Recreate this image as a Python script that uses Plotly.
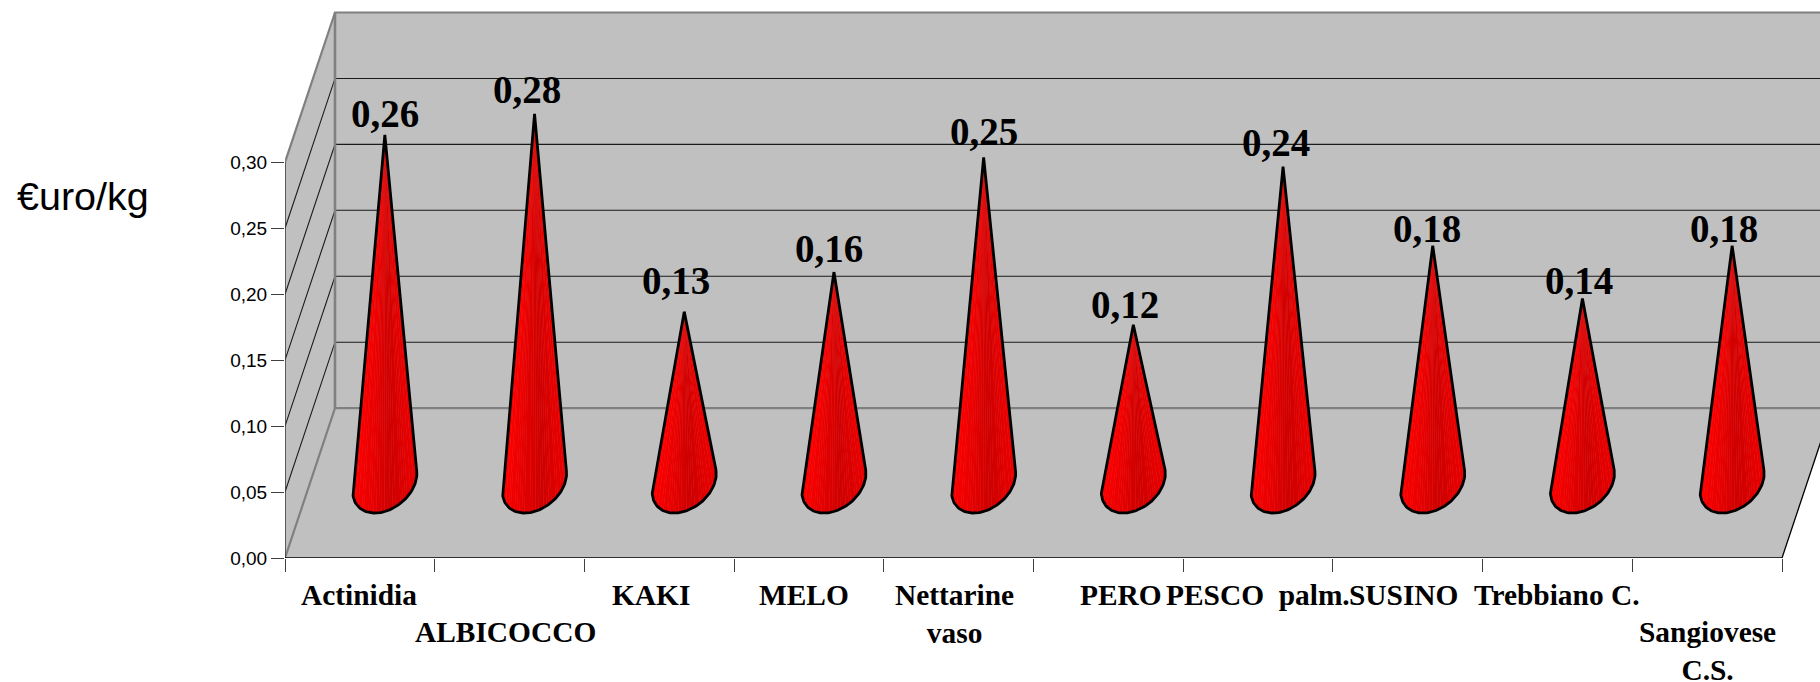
import numpy as np
import plotly.graph_objects as go

# ---- data ----
CATEGORY_LABELS = ["Actinidia", "ALBICOCCO", "KAKI", "MELO", "Nettarine<br>vaso", "PERO",
                   "PESCO  palm.", "SUSINO", "Trebbiano C.", "Sangiovese<br>C.S."]
VALUES = [0.264, 0.28, 0.13, 0.16, 0.247, 0.12, 0.24, 0.18, 0.14, 0.18]
VALUE_TICKS = [0.00, 0.05, 0.10, 0.15, 0.20, 0.25, 0.30]
UNIT_LABEL = "€uro/kg"

# ---- hand placement of the texts in the original, in pixels ----
CAT_LABEL_DX = [-1, -4, -8, -5, -4, 13, 0, -4, 0, 0]
CAT_LABEL_ROW = [0, 1, 0, 0, 0, 0, 0, 0, 0, 1]
VAL_LABEL_DX = [0, -8, -8, -5, 0, -8, -7, -6, -3, -8]
VAL_LABEL_GAP = [21, 24, 31, 24, 26, 20, 24, 17, 18, 17]

# ---- scales of the drawing (oblique projection of a 3-D column chart) ----
W, H = 1820, 682
LEFT, BASE_PX = 285, 558.5
PX_PER_CAT, PX_PER_VAL = 149.7, 1320.0
DEPTH_X = 50 / PX_PER_CAT     # back wall offset, in category units
DEPTH_Y = 150 / PX_PER_VAL    # back wall offset, in value units
N = len(VALUES)
VMAX = VALUE_TICKS[-1]
X_END = (W - LEFT) / PX_PER_CAT
Y_END = BASE_PX / PX_PER_VAL
GREY, DARK = "#C0C0C0", "#808080"

fig = go.Figure()


def line(xs, ys, color, width, fill=None):
    fig.add_trace(go.Scatter(x=xs, y=ys, mode="lines", line=dict(color=color, width=width),
                             fill="toself" if fill else None, fillcolor=fill,
                             hoverinfo="skip", showlegend=False))


# walls and floor
line([DEPTH_X, N + DEPTH_X, N + DEPTH_X, DEPTH_X, DEPTH_X],
     [DEPTH_Y, DEPTH_Y, VMAX + DEPTH_Y, VMAX + DEPTH_Y, DEPTH_Y], GREY, 0, GREY)
line([0, DEPTH_X, DEPTH_X, 0, 0], [0, DEPTH_Y, VMAX + DEPTH_Y, VMAX, 0], GREY, 0, GREY)
line([0, N, N + DEPTH_X, DEPTH_X, 0], [0, 0, DEPTH_Y, DEPTH_Y, 0], GREY, 0, GREY)

# gridlines on the back and left walls
for v in VALUE_TICKS[1:-1]:
    line([0, DEPTH_X, N + DEPTH_X], [v, v + DEPTH_Y, v + DEPTH_Y], "#1a1a1a", 1.1)

# wall edges
line([0, DEPTH_X, N + DEPTH_X], [0, DEPTH_Y, DEPTH_Y], DARK, 2.2)
line([DEPTH_X, DEPTH_X], [DEPTH_Y, VMAX + DEPTH_Y], DARK, 2.6)
line([0, DEPTH_X, N + DEPTH_X], [VMAX, VMAX + DEPTH_Y, VMAX + DEPTH_Y], DARK, 2.2)
# front axis lines and right floor edge
line([0, 0], [0, VMAX], "#404040", 1.6)
line([0, N, N + DEPTH_X], [0, 0, DEPTH_Y], "#000000", 1.3)


# ---- cones ----
def hull(points):
    pts = sorted(set(map(tuple, points)))
    def half(seq):
        out = []
        for p in seq:
            while len(out) > 1 and (out[-1][0] - out[-2][0]) * (p[1] - out[-2][1]) - \
                    (out[-1][1] - out[-2][1]) * (p[0] - out[-2][0]) <= 0:
                out.pop()
            out.append(p)
        return out[:-1]
    return half(pts) + half(pts[::-1])


A_PX, K = 30.4, 0.2   # base radius across (px) and in depth (fraction of the depth)
BANDS = 22
band_x = [[] for _ in range(BANDS)]
band_y = [[] for _ in range(BANDS)]
out_x, out_y = [], []
theta = np.linspace(0, 2 * np.pi, 145)[:-1]
apexes = []
for i, v in enumerate(VALUES):
    cx = i + 0.5 + DEPTH_X / 2
    cy = DEPTH_Y / 2
    ex = cx + (A_PX / PX_PER_CAT) * np.cos(theta) + K * DEPTH_X * np.sin(theta)
    ey = cy + K * DEPTH_Y * np.sin(theta)
    apex = (cx, cy + v)
    apexes.append(apex)
    pts = [(float(a), float(b)) for a, b in zip(ex, ey)] + [apex]
    h = hull(pts)
    k = h.index(apex)
    h = h[k:] + h[:k]
    arc = h[1:]
    xmin, xmax = min(p[0] for p in arc), max(p[0] for p in arc)
    out_x += [p[0] for p in h] + [h[0][0], None]
    out_y += [p[1] for p in h] + [h[0][1], None]
    if arc[0][0] > arc[-1][0]:
        arc = arc[::-1]
    arc = arc[::2] + [arc[-1]]
    for p, q in zip(arc[:-1], arc[1:]):
        u = ((p[0] + q[0]) / 2 - xmin) / (xmax - xmin)
        b = min(BANDS - 1, int(u * BANDS))
        band_x[b] += [apex[0], p[0], q[0], apex[0], None]
        band_y[b] += [apex[1], p[1], q[1], apex[1], None]

# pinkish under-layer: it shows through the seams between slices as light stripes
fig.add_trace(go.Scatter(x=out_x, y=out_y, mode="lines", line=dict(width=0, color="#ea3a3a"),
                         fill="toself", fillcolor="#ea3a3a", hoverinfo="skip", showlegend=False))
for b in range(BANDS):
    u = (b + 0.5) / BANDS
    red = 255 - 50 * min(1, u / 0.6) if u < 0.6 else 205 + 30 * (u - 0.6) / 0.4
    color = f"rgb({int(red)},0,0)"
    fig.add_trace(go.Scatter(x=band_x[b], y=band_y[b], mode="lines", line=dict(width=0, color=color),
                             fill="toself", fillcolor=color, hoverinfo="skip", showlegend=False))
line(out_x, out_y, "#000000", 2.8)

# value labels above the apexes
annotations = [dict(x=a[0], y=a[1], xref="x", yref="y", text=f"<b>{v:.2f}</b>".replace(".", ","),
                    showarrow=False, xanchor="center", yanchor="middle", xshift=dx, yshift=gap,
                    font=dict(family="Liberation Serif", size=39, color="#000000"))
               for a, v, dx, gap in zip(apexes, VALUES, VAL_LABEL_DX, VAL_LABEL_GAP)]
# category labels under the axis
annotations += [dict(x=i + 0.5, y=0, xref="x", yref="y", text=f"<b>{c}</b>", showarrow=False,
                     xanchor="center", yanchor="top", xshift=dx, yshift=-19 - 37 * row,
                     font=dict(family="Liberation Serif", size=29.4, color="#000000"))
                for i, (c, dx, row) in enumerate(zip(CATEGORY_LABELS, CAT_LABEL_DX, CAT_LABEL_ROW))]
annotations.append(dict(text=UNIT_LABEL, xref="paper", yref="paper", xanchor="left", yanchor="middle",
                        x=-(LEFT - 15) / (W - LEFT), y=(BASE_PX - 196) / BASE_PX, showarrow=False,
                        font=dict(family="Liberation Sans", size=39.5, color="#000000")))

fig.update_layout(
    width=W, height=H, autosize=False, plot_bgcolor="white", paper_bgcolor="white",
    margin=dict(l=LEFT, r=0, t=0, b=H - BASE_PX, pad=0),
    separators=", ",
    xaxis=dict(
        type="linear", range=[0, X_END], showgrid=False, zeroline=False, showline=False,
        automargin=False, tickmode="array", tickvals=list(range(N + 1)), showticklabels=False,
        ticks="outside", ticklen=13, tickwidth=1.2, tickcolor="#404040",
    ),
    yaxis=dict(
        range=[0, Y_END], showgrid=False, zeroline=False, showline=False, automargin=False,
        tickmode="array", tickvals=VALUE_TICKS, tickformat=".2f", ticks="outside",
        ticklen=13, tickwidth=1.2, tickcolor="#404040",
        tickfont=dict(family="Liberation Sans", size=19, color="#000000"),
    ),
    annotations=annotations,
)

fig.write_html("out.html", config={"displayModeBar": False},
               post_script="document.body.style.margin='0';document.body.style.overflow='hidden';")
